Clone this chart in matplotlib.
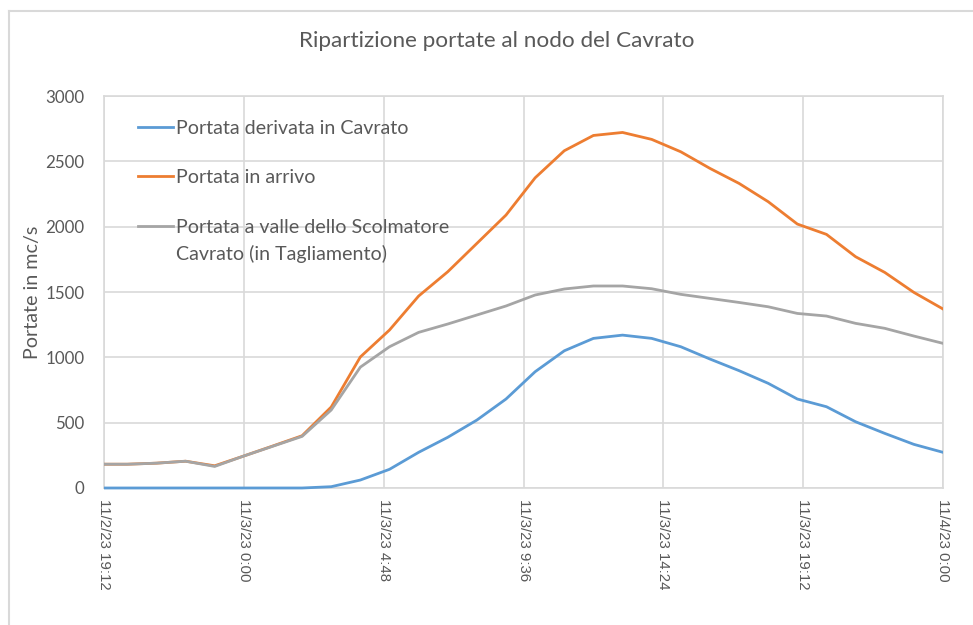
import matplotlib
matplotlib.use('Agg')
import matplotlib.pyplot as plt
from matplotlib.lines import Line2D
from matplotlib.patches import Rectangle
import pandas as pd

# hourly readings, 11/2/23 19:00 -> 11/4/23 0:00
times = pd.date_range('2023-11-02 19:00', '2023-11-04 00:00', freq='h')

derivata = [0, 0, 0, 0, 0, 0, 0, 0, 10, 61, 143, 273, 388, 520, 681, 890,
            1050, 1145, 1170, 1145, 1081, 987, 898, 801, 681, 622, 507, 418,
            334, 273]
arrivo = [182, 182, 190, 205, 170, 245, 322, 400, 620, 1003, 1209, 1469,
          1655, 1872, 2089, 2374, 2581, 2698, 2721, 2668, 2573, 2446, 2331,
          2191, 2020, 1941, 1770, 1650, 1497, 1370]
valle = [182, 182, 190, 205, 165, 245, 320, 395, 597, 925, 1081, 1191, 1255,
         1324, 1393, 1477, 1523, 1546, 1546, 1525, 1482, 1451, 1420, 1387,
         1336, 1316, 1260, 1222, 1163, 1107]

labels = ['Portata derivata in Cavrato', 'Portata in arrivo',
          'Portata a valle dello Scolmatore\nCavrato (in Tagliamento)']
colors = ['#5b9bd5', '#ed7d31', '#a5a5a5']

tick_times = pd.to_datetime(['2023-11-02 19:12', '2023-11-03 00:00',
                             '2023-11-03 04:48', '2023-11-03 09:36',
                             '2023-11-03 14:24', '2023-11-03 19:12',
                             '2023-11-04 00:00'])
tick_labels = ['11/2/23 19:12', '11/3/23 0:00', '11/3/23 4:48',
               '11/3/23 9:36', '11/3/23 14:24', '11/3/23 19:12',
               '11/4/23 0:00']
yticks = [0, 500, 1000, 1500, 2000, 2500, 3000]

txt = '#595959'
grid = '#d9d9d9'
W, H = 973, 625
x0, x1, ytop, ybot = 104, 943, 96, 488

fig = plt.figure(figsize=(W / 100, H / 100), dpi=100)
ax = fig.add_axes([x0 / W, 1 - ybot / H, (x1 - x0) / W, (ybot - ytop) / H])

# clip at the x limits only, so the zero line is drawn full width
clip = Rectangle((0, -0.05), 1, 1.1, transform=ax.transAxes, visible=False)
ax.add_artist(clip)
for ys, c in zip([derivata, arrivo, valle], colors):
    ln, = ax.plot(times, ys, color=c, lw=2.0, solid_joinstyle='round',
                  zorder=3)
    ln.set_clip_path(clip)

ax.set_xlim(tick_times[0], tick_times[-1])
ax.set_ylim(0, 3000)
ax.set_xticks(tick_times)
ax.set_xticklabels(tick_labels, rotation=-90, fontfamily='Liberation Sans',
                   fontsize=10.8, color=txt, va='top', ha='center')
ax.set_yticks(yticks)
ax.set_yticklabels([str(v) for v in yticks], fontfamily='Lato', fontsize=12.2,
                   color=txt)
ax.tick_params(length=0)
ax.tick_params(axis='y', pad=14)
ax.tick_params(axis='x', pad=8)
ax.grid(True, color=grid, lw=1.2)
ax.set_axisbelow(True)
for s in ax.spines.values():
    s.set_color(grid)
    s.set_linewidth(1.2)

ax.set_ylabel('Portate in mc/s', fontfamily='Lato', fontsize=14.2, color=txt,
              va='center')
ax.yaxis.set_label_coords((33 - x0) / (x1 - x0), 0.5)
fig.text(497 / W, 1 - 41 / H, 'Ripartizione portate al nodo del Cavrato',
         ha='center', va='center', fontfamily='Lato', fontsize=16.2, color=txt)

# legend drawn by hand: handle sits on the first line of each label
def fx(px):
    return (px - x0) / (x1 - x0)

def fy(py):
    return (ybot - py) / (ybot - ytop)

leg_y = [127, 176, 226]
for py, c, lab in zip(leg_y, colors, labels):
    ax.plot([fx(138), fx(173)], [fy(py), fy(py)], color=c, lw=2.0,
            transform=ax.transAxes, zorder=4)
    for k, line in enumerate(lab.split('\n')):
        ax.text(fx(176), fy(py + 26 * k), line, transform=ax.transAxes,
                va='center_baseline', ha='left', fontfamily='Lato',
                fontsize=14.1, color=txt, zorder=4)

# chart-area border (right and bottom edges fall outside the crop)
fig.add_artist(Line2D([9 / W, 9 / W], [0, 1 - 11 / H], color=grid, lw=1.5))
fig.add_artist(Line2D([9 / W, 1], [1 - 11 / H, 1 - 11 / H], color=grid, lw=1.5))

fig.savefig('out.png', dpi=100)
